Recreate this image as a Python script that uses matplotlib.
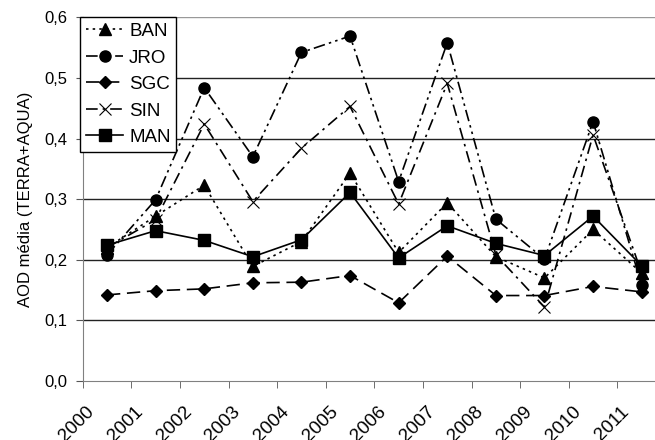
import matplotlib
matplotlib.use("Agg")
import matplotlib.pyplot as plt
import matplotlib.transforms as mtransforms
import numpy as np

plt.rcParams['font.family'] = ['Liberation Sans', 'DejaVu Sans']

years = ["2000", "2001", "2002", "2003", "2004", "2005", "2006", "2007", "2008", "2009", "2010", "2011"]
BAN = [0.220, 0.272, 0.323, 0.189, 0.230, 0.343, 0.212, 0.294, 0.205, 0.170, 0.250, 0.178]
JRO = [0.208, 0.299, 0.484, 0.370, 0.542, 0.569, 0.329, 0.558, 0.267, 0.201, 0.428, 0.158]
SGC = [0.142, 0.149, 0.152, 0.162, 0.163, 0.174, 0.129, 0.206, 0.141, 0.141, 0.156, 0.147]
SIN = [0.220, 0.266, 0.424, 0.296, 0.384, 0.453, 0.292, 0.491, 0.208, 0.122, 0.406, 0.178]
MAN = [0.224, 0.248, 0.232, 0.205, 0.233, 0.311, 0.203, 0.256, 0.227, 0.207, 0.272, 0.190]
yticks = [0.0, 0.1, 0.2, 0.3, 0.4, 0.5, 0.6]

fig = plt.figure(figsize=(6.55, 4.4), dpi=100)
W, H = 655, 440
left, right, top, bottom = 82.7, 666.0, 17.3, 381.0
ax = fig.add_axes([left / W, (H - bottom) / H, (right - left) / W, (bottom - top) / H])

x = np.arange(len(years))
series = [
    ("BAN", BAN, '^', (0, (1.5, 2.5)), 8, 'k'),
    ("JRO", JRO, 'o', (0, (7, 2.5, 1.5, 2.5, 1.5, 2.5)), 8, 'k'),
    ("SGC", SGC, 'D', (0, (8, 4)), 6, 'k'),
    ("SIN", SIN, 'x', (0, (7, 3, 1.5, 3)), 8, 'k'),
    ("MAN", MAN, 's', '-', 8, 'k'),
]
for name, vals, mk, ls, ms, c in series:
    ax.plot(x, vals, linestyle=ls, color=c, marker=mk, markersize=ms,
            markeredgewidth=0.8 if mk == 'x' else 1.0, lw=1.2, label=name, clip_on=False)

ax.set_xlim(-0.5, len(years) - 0.5)
ax.set_ylim(0, 0.6)
ax.set_yticks(yticks)
ax.set_yticklabels([f"{v:.1f}".replace('.', ',') for v in yticks], fontsize=12)
for v in yticks[1:]:
    ax.axhline(v, color='#999999' if v == 0.6 else '#222222', lw=1.0, zorder=0)

ax.set_xticks(x)
ax.set_xticklabels(years, fontsize=13.5, rotation=45, ha='right', rotation_mode='anchor', va='center')
ax.tick_params(axis='x', which='major', length=0, pad=0)
shift = mtransforms.ScaledTranslation(-15 / 100, -28 / 100, fig.dpi_scale_trans)
for lab in ax.get_xticklabels():
    lab.set_transform(lab.get_transform() + shift)
ax.set_xticks(np.arange(-0.5, len(years), 1.0), minor=True)
ax.tick_params(axis='x', which='minor', length=5, color='#555555', direction='out')
ax.tick_params(axis='y', length=5, color='#555555', direction='out', pad=6)

for s in ['top', 'right']:
    ax.spines[s].set_visible(False)
ax.spines['left'].set_color('#808080')
ax.spines['bottom'].set_color('#808080')

ax.set_ylabel("AOD média (TERRA+AQUA)", fontsize=12, labelpad=8)

leg = ax.legend(loc='upper left', bbox_to_anchor=(-0.004, 1.0), borderaxespad=0,
                fontsize=13.5, frameon=True, fancybox=False, handlelength=2.0,
                labelspacing=0.5, handletextpad=0.3, borderpad=0.3)
leg.get_frame().set_edgecolor('black')
leg.get_frame().set_linewidth(1.0)
leg.get_frame().set_alpha(1)

fig.savefig("out.png", dpi=100)
